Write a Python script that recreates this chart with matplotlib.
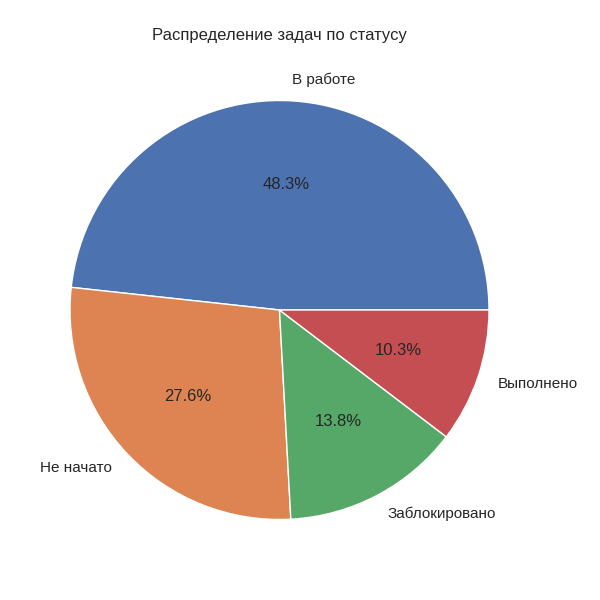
import matplotlib
matplotlib.use("Agg")
import matplotlib.pyplot as plt
import seaborn as sns

categories = ["В работе", "Не начато", "Заблокировано", "Выполнено"]
counts = [14, 8, 4, 3]

sns.set_theme()
plt.rcParams["font.family"] = ["Liberation Sans", "DejaVu Sans"]
colors = sns.color_palette("deep")[:4]

fig = plt.figure(figsize=(6, 6), dpi=100)
W = 600.0
cx, cy, r = 279.5, 600 - 310.0, 209.5
side = 2.5 * r
ax = fig.add_axes([(cx - side / 2) / W, (cy - side / 2) / W, side / W, side / W])
ax.pie(counts, labels=categories, autopct="%1.1f%%", colors=colors,
       wedgeprops={"edgecolor": "white", "linewidth": 1})
ax.set_xlim(-1.25, 1.25)
ax.set_ylim(-1.25, 1.25)
ax.set_aspect("equal")
ax.set_title("Распределение задач по статусу")
fig.savefig("out.png", dpi=100)
